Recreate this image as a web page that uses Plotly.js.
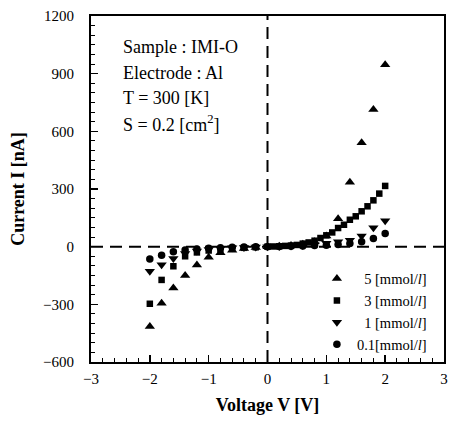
<!DOCTYPE html>
<html>
<head>
<meta charset="utf-8">
<script src="https://cdn.plot.ly/plotly-3.0.1.min.js"></script>
<style>html,body{margin:0;padding:0;background:#fff;}#chart{width:453px;height:425px;}</style>
</head>
<body>
<div id="chart"></div>
<script>
// Voltage (V) values
const vNeg = [-2.0, -1.8, -1.6, -1.4, -1.2, -1.0, -0.8, -0.6, -0.4, -0.2, 0.0];
const vPos02 = [0.2, 0.4, 0.6, 0.8, 1.0, 1.2, 1.4, 1.6, 1.8, 2.0];
const vPos01 = [0.1, 0.2, 0.3, 0.4, 0.5, 0.6, 0.7, 0.8, 0.9, 1.0, 1.1, 1.2, 1.3, 1.4, 1.5, 1.6, 1.7, 1.8, 1.9, 2.0];

// Current (nA) values, per concentration
const i5Neg  = [-415, -295, -215, -150, -95, -55, -32, -18, -10, -4, 0];
const i5Pos  = [2, 6, 12, 25, 55, 145, 335, 540, 713, 947];
const i3Neg  = [-297, -173, -102, -50, -30, -20, -14, -9, -6, -3, 0];
const i3Pos  = [1, 2, 4, 6, 9, 16, 22, 31, 45, 59, 74, 97, 114, 140, 158, 184, 210, 241, 276, 316];
const i1Neg  = [-128, -94, -62, -35, -22, -15, -10, -6, -4, -2, 0];
const i1Pos  = [1, 3, 6, 10, 18, 25, 34, 55, 99, 135];
const i01Neg = [-64, -45, -27, -17, -12, -8, -5, -3, -2, -1, 0];
const i01Pos = [1, 2, 4, 6, 8, 11, 16, 26, 42, 68];

const seriesNames = ['5 [mmol/<i>l</i>]', '3 [mmol/<i>l</i>]', '1 [mmol/<i>l</i>]', '0.1[mmol/<i>l</i>]'];
const infoLines = ['Sample : IMI-O', 'Electrode : Al', 'T = 300 [K]', 'S = 0.2 [cm<sup>2</sup>]'];

const serif = '"Liberation Serif", "Times New Roman", Times, serif';

function mk(x, y, name, symbol, size) {
  return {
    x: x, y: y, name: name, type: 'scatter', mode: 'markers',
    marker: {symbol: symbol, size: size, color: '#000'}
  };
}

const data = [
  mk(vNeg.concat(vPos02), i5Neg.concat(i5Pos), '\u00a0\u00a0' + seriesNames[0], 'triangle-up', 9),
  mk(vNeg.concat(vPos01), i3Neg.concat(i3Pos), '\u00a0\u00a0' + seriesNames[1], 'square', 6.5),
  mk(vNeg.concat(vPos02), i1Neg.concat(i1Pos), '\u00a0\u00a0' + seriesNames[2], 'triangle-down', 9),
  mk(vNeg.concat(vPos02), i01Neg.concat(i01Pos), seriesNames[3], 'circle', 7.5)
];

const layout = {
  width: 453, height: 425,
  margin: {l: 91, r: 9, t: 16, b: 63},
  paper_bgcolor: '#fff', plot_bgcolor: '#fff',
  font: {family: serif, color: '#000', size: 15},
  showlegend: true,
  legend: {
    x: 0.64, y: 0.287, xanchor: 'left', yanchor: 'top',
    bgcolor: 'rgba(0,0,0,0)', font: {family: serif, size: 14.5, color: '#000'},
    tracegroupgap: 0, itemwidth: 30
  },
  xaxis: {
    range: [-3, 3], dtick: 1, tick0: 0,
    showgrid: false, zeroline: false,
    showline: true, linecolor: '#000', linewidth: 2, mirror: true,
    ticks: 'inside', ticklen: 7, tickwidth: 1.5, tickcolor: '#000',
    minor: {dtick: 0.2, ticks: 'inside', ticklen: 4, tickwidth: 1, tickcolor: '#000'},
    tickfont: {family: serif, size: 15},
    ticklabelstandoff: 2,
    title: {text: '<b>Voltage V [V]</b>', font: {family: serif, size: 18}, standoff: 12}
  },
  yaxis: {
    range: [-600, 1200], dtick: 300, tick0: 0,
    showgrid: false, zeroline: false,
    showline: true, linecolor: '#000', linewidth: 2, mirror: true,
    ticks: 'inside', ticklen: 7, tickwidth: 1.5, tickcolor: '#000',
    minor: {dtick: 50, ticks: 'inside', ticklen: 4, tickwidth: 1, tickcolor: '#000'},
    tickfont: {family: serif, size: 15},
    ticklabelstandoff: 12,
    title: {text: '<b>Current I [nA]</b>', font: {family: serif, size: 18}, standoff: 14}
  },
  shapes: [
    {type: 'line', xref: 'x', yref: 'y', x0: -3, x1: 3, y0: 0, y1: 0,
     line: {color: '#000', width: 2, dash: '12px,7px'}},
    {type: 'line', xref: 'x', yref: 'y', x0: 0, x1: 0, y0: -600, y1: 1200,
     line: {color: '#000', width: 2, dash: '12px,7px'}}
  ],
  annotations: infoLines.map((t, k) => ({
    text: t, xref: 'paper', yref: 'paper',
    x: (121 - 91) / 353, y: (362 - (47 + k * 25.5)) / 346,
    xanchor: 'left', yanchor: 'middle', showarrow: false,
    font: {family: serif, size: 18, color: '#000'}
  }))
};

Plotly.newPlot('chart', data, layout, {displayModeBar: false, staticPlot: true});
</script>
</body>
</html>
